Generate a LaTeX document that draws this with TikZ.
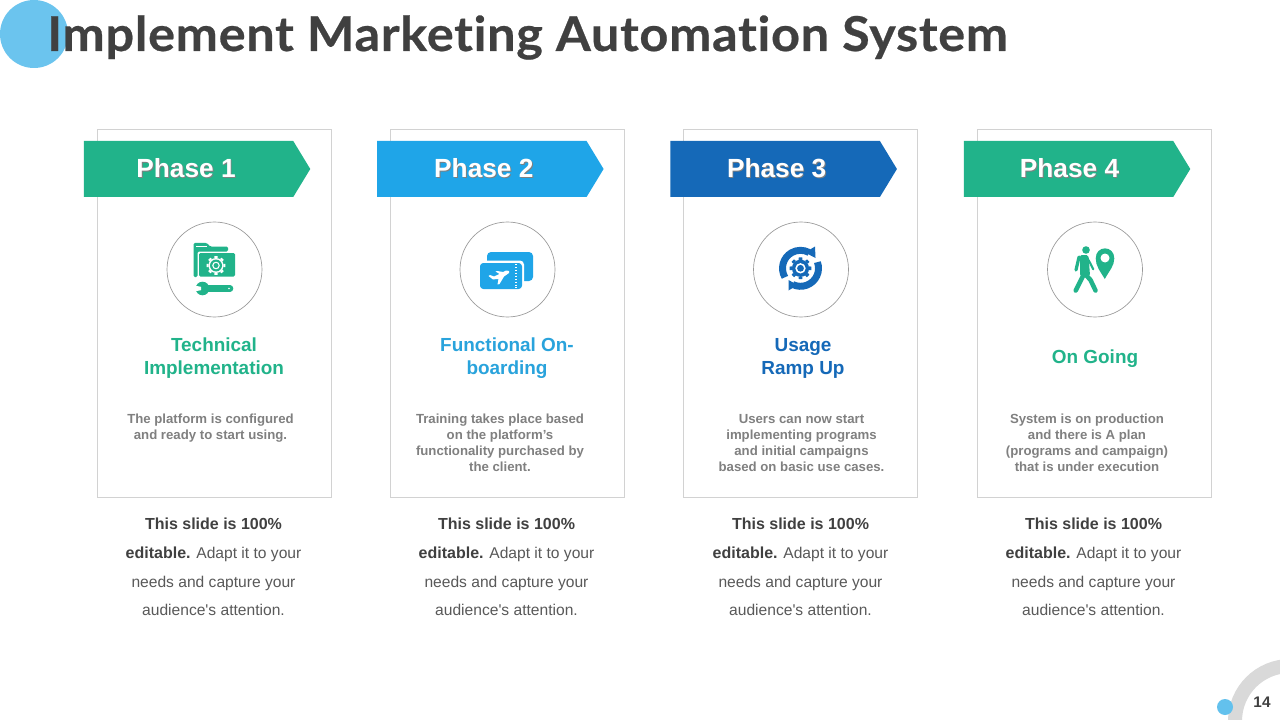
\documentclass[tikz,border=0pt]{standalone}
\usepackage{fontspec}
\setmainfont{Liberation Sans}
\newfontfamily\plainfont{Liberation Sans}
\newfontfamily\titlefont{Lato Bold}[FakeStretch=1.05,FakeBold=.5,LetterSpace=1.5,Ligatures=NoCommon]
\usetikzlibrary{calc,positioning,shapes}
\newdimen\pxdim
\pxdim=.75pt
\definecolor{titlegray}{HTML}{404040}
\definecolor{phasegreen}{HTML}{21B38A}
\definecolor{phaseblue}{HTML}{1FA5E8}
\definecolor{phasedark}{HTML}{1569B8}
\definecolor{headblue}{HTML}{29A3DC}
\definecolor{skyblue}{HTML}{6BC4EE}
\definecolor{cardline}{HTML}{D2D2D2}
\definecolor{ringgray}{HTML}{D9D9D9}
\tikzstyle{card}=[
  draw=cardline,
  line width=.75pt,
  minimum height=368\pxdim,
  minimum width=234\pxdim,
  inner sep=0pt,
  rectangle,
]
\tikzstyle{banner}=[
  signal,
  signal to=east,
  signal pointer angle=117.4,
  minimum height=56\pxdim,
  minimum width=226.5\pxdim,
  inner sep=0pt,
  font={\fontsize{19.7}{24}\selectfont\bfseries},
  text=white,
]
\tikzstyle{badge}=[
  circle,
  draw=black!40,
  line width=.5pt,
  minimum size=95\pxdim,
  inner sep=0pt,
]
\tikzstyle{heading}=[
  align=center,
  font={\fontsize{14.2}{17.25}\selectfont\bfseries},
]
\tikzstyle{detail}=[
  align=center,
  text=black!50,
  font={\fontsize{9.9}{12}\selectfont\bfseries},
]
\tikzstyle{note}=[
  align=center,
  text=black!65,
  font={\fontsize{11.7}{21.6}\selectfont},
]
\tikzset{
  node distance=293.33\pxdim,
  x=\pxdim,
  y=-\pxdim,
}
\newcommand{\phasetext}[2]{\kern#1\pxdim\rlap{\raisebox{-.9pt}{\kern.7pt\textcolor{black!50}{#2}}}#2}
\newcommand{\editnote}{\textcolor{black!75}{\fontsize{12}{21.6}\selectfont\textbf{This slide is 100\%}}\\
  \textcolor{black!75}{\fontsize{12}{21.6}\selectfont\textbf{editable.}} Adapt it to your\\
  needs and capture your\\
  audience{\plainfont'}s attention.}
% cog: x, y, body radius, colour
\newcommand{\cogicon}[4]{%
  \foreach \a in {0,45,...,315}
    \fill [#4] (#1,#2) ++(\a-13:#3) -- ($(#1,#2)+(\a-9:1.28*#3)$) -- ($(#1,#2)+(\a+9:1.28*#3)$) -- ($(#1,#2)+(\a+13:#3)$) -- cycle;
  \fill [#4] (#1,#2) circle (#3);
}
\begin{document}
\begin{tikzpicture}
  \path [use as bounding box, clip] (0,0) rectangle (1280,720);
  \fill [white] (0,0) rectangle (1280,720);

  \node (dotA) [circle, fill=skyblue, minimum size=68\pxdim, inner sep=0pt] at (34,34) {};
  \node (title) [anchor=west, inner sep=0pt, text=titlegray, font={\fontsize{36}{40}\titlefont}] at (47,37.5) {Implement Marketing Automation System};

  % cards
  \node (cardA) [card] at (214,313.3) {};
  \node (cardB) [card, right of=cardA] {};
  \node (cardC) [card, right of=cardB] {};
  \node (cardD) [card, right of=cardC] {};

  % phase banners
  \node (phaseA) [banner, fill=phasegreen] at (188.5,169) {\phasetext{-5}{Phase 1}};
  \node (phaseB) [banner, fill=phaseblue, right of=phaseA] {\phasetext{4}{Phase 2}};
  \node (phaseC) [banner, fill=phasedark, right of=phaseB] {\phasetext{3}{Phase 3}};
  \node (phaseD) [banner, fill=phasegreen, right of=phaseC] {\phasetext{2}{Phase 4}};

  % badges
  \node (badgeA) [badge] at (214.5,269.5) {};
  \node (badgeB) [badge] at (507.5,269.5) {};
  \node (badgeC) [badge] at (801,269.5) {};
  \node (badgeD) [badge] at (1095,269.5) {};

  % folder and spanner
  \begin{scope}[phasegreen]
    \fill [rounded corners=1pt] (193.5,277) -- (193.5,243) -- (207,243) -- (210,246.5) -- (228,246.5) -- (228,251.5) -- (197.5,251.5) -- (197.5,277) -- cycle;
    \fill [white] (196,245.6) rectangle (207,246.5);
    \fill [rounded corners=1pt] (199,253) rectangle (235,276.5);
    \cogicon{216}{265.5}{7.5}{white}
    \fill (216,265.5) circle (6);
    \fill [white] (216,265.5) circle (3.8);
    \fill (216,265.5) circle (2.5);
    \fill (202.5,288.5) circle (6.8);
    \draw [line width=5pt, line cap=round] (205,288.5) -- (230,288.5);
    \fill [white] (194,285.5) -- (201,286.8) -- (201,290.2) -- (194,291.5) -- cycle;
    \fill [white] (229,288.5) circle (.8);
  \end{scope}

  % plane tickets
  \begin{scope}[phaseblue]
    \fill [rounded corners=3pt] (487,252) rectangle (533,281);
    \fill [white, rounded corners=3pt] (478,260.5) rectangle (524,291.5);
    \fill [rounded corners=2.5pt] (480,263) rectangle (522,289);
    \draw [white, line width=1.1pt, dash pattern=on 1pt off 1.2pt] (516,264) -- (516,288);
    \fill [white] (509,271) -- (506,270.5) -- (503,272) -- (497,271) -- (495.5,271.5) -- (499.5,274) -- (494,276.5) -- (490,275) -- (488.5,276) -- (493,279.5) -- (497,279) -- (498.5,279) -- (497.5,284.5) -- (499.5,284) -- (504,276.5) -- (509,273) -- cycle;
  \end{scope}

  % rotating cog
  \begin{scope}[phasedark]
    \draw [line width=5.2pt] ($(800.5,268.3)+(150:18)$) arc [start angle=150, end angle=298, radius=18];
    \draw [line width=5.2pt] ($(800.5,268.3)+(-20:18)$) arc [start angle=-20, end angle=115, radius=18];
    \fill (815,246.5) -- (815.5,258) -- (805,252.5) -- cycle;
    \fill (788.5,290.5) -- (788.5,280) -- (797.5,285) -- cycle;
    \cogicon{800.5}{268.3}{8.6}{phasedark}
    \fill [white] (800.5,268.3) circle (5.2);
    \fill (800.5,268.3) circle (3.4);
  \end{scope}

  % walker and pin
  \begin{scope}[phasegreen]
    \fill (1086,250) circle (3.8);
    \fill [rounded corners=1.5pt] (1080,255) -- (1088.5,255) -- (1090,276) -- (1080,276) -- cycle;
    \draw [line width=2.4pt, line cap=round] (1079,257) -- (1076,270);
    \draw [line width=1.6pt, line cap=round] (1088.5,260) -- (1093.3,269.3);
    \draw [line width=3.4pt, line cap=round] (1084,274) -- (1075.7,290.5);
    \draw [line width=3.4pt, line cap=round, line join=round] (1085,274) -- (1090.5,280) -- (1095.5,290.5);
    \fill (1104.8,279) .. controls (1100,271) and (1095.7,266) .. (1095.7,258.5) .. controls (1095.7,245) and (1114.3,245) .. (1114.3,258.5) .. controls (1114.3,266) and (1109,271) .. (1104.8,279) -- cycle;
    \fill [white] (1105,258) circle (4.5);
  \end{scope}

  % headings
  \node (headA) [heading, text=phasegreen] at (214,358.5) {Technical\\Implementation};
  \node (headB) [heading, text=headblue] at (507,358.5) {Functional On-\\boarding};
  \node (headC) [heading, text=phasedark] at (803,358.5) {Usage\\Ramp Up};
  \node (headD) [heading, text=phasegreen] at (1095,358.5) {On Going};

  % descriptions
  \node (textA) [detail] at (210.5,428) {The platform is configured\\and ready to start using.};
  \node (textB) [detail] at (500,442.5) {Training takes place based\\on the platform’s\\functionality purchased by\\the client.};
  \node (textC) [detail] at (801.5,443) {Users can now start\\implementing programs\\and initial campaigns\\based on basic use cases.};
  \node (textD) [detail] at (1087,442.5) {System is on production\\and there is A plan\\(programs and campaign)\\that is under execution};

  % notes below the cards
  \node (noteA) [note] at (213.5,567) {\editnote};
  \node (noteB) [note] at (506.5,567) {\editnote};
  \node (noteC) [note] at (800.5,567) {\editnote};
  \node (noteD) [note] at (1093.5,567) {\editnote};

  % page mark
  \draw [ringgray, line width=10.5pt] (1290,721) circle (55);
  \node (dotB) [circle, fill=skyblue!90!phaseblue, minimum size=16\pxdim, inner sep=0pt] at (1225,707) {};
  \node (page) [text=titlegray, font={\fontsize{11.5}{13}\selectfont\bfseries}] at (1262,702) {14};
\end{tikzpicture}
\end{document}
